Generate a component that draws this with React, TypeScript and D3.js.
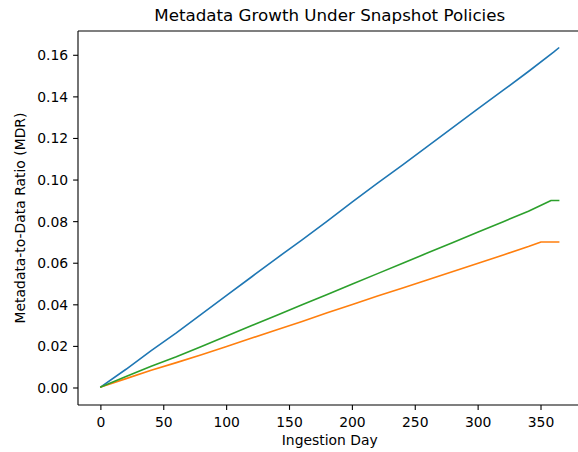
import React from "react";
import * as d3 from "d3";

// values (MDR by ingestion day)
const blueDays = [0, 20, 40, 60, 80, 100, 120, 140, 160, 180, 200, 220, 240, 260, 280, 300, 320, 340, 360, 364];
const blueVals = [0.0005, 0.009, 0.018, 0.0265, 0.0355, 0.0445, 0.0535, 0.0625, 0.0712, 0.0803, 0.0895, 0.0985, 0.1073, 0.1163, 0.1253, 0.1343, 0.1432, 0.1522, 0.1615, 0.1635];

const orangeDays = [0, 20, 40, 60, 80, 100, 120, 140, 160, 180, 200, 220, 240, 260, 280, 300, 320, 340, 350, 364];
const orangeVals = [0.0005, 0.0045, 0.0085, 0.0122, 0.016, 0.02, 0.024, 0.028, 0.032, 0.0362, 0.0402, 0.0442, 0.0481, 0.052, 0.056, 0.06, 0.064, 0.068, 0.0702, 0.0702];

const greenDays = [0, 20, 40, 60, 80, 100, 120, 140, 160, 180, 200, 220, 240, 260, 280, 300, 320, 340, 358, 364];
const greenVals = [0.0005, 0.0055, 0.0105, 0.015, 0.02, 0.025, 0.03, 0.035, 0.04, 0.045, 0.05, 0.055, 0.06, 0.065, 0.07, 0.075, 0.08, 0.085, 0.0902, 0.0902];

const xTicks = [0, 50, 100, 150, 200, 250, 300, 350];
const yTicks = [0, 0.02, 0.04, 0.06, 0.08, 0.1, 0.12, 0.14, 0.16];

const W = 578;
const H = 452;
const left = 78;
const right = 581.5;
const top = 31;
const bottom = 405;
const font = "'DejaVu Sans', sans-serif";

export default function App() {
  const x = d3.scaleLinear().domain([-18.2, 382.2]).range([left, right]);
  const y = d3.scaleLinear().domain([-0.00818, 0.17168]).range([bottom, top]);

  const line = d3
    .line<[number, number]>()
    .x((d) => x(d[0]))
    .y((d) => y(d[1]));

  const series = [
    { days: blueDays, vals: blueVals, color: "#1f77b4" },
    { days: orangeDays, vals: orangeVals, color: "#ff7f0e" },
    { days: greenDays, vals: greenVals, color: "#2ca02c" },
  ];

  const cx = (left + right) / 2;
  const cy = (top + bottom) / 2;

  return (
    <svg
      width={W}
      height={H}
      style={{ position: "absolute", left: 0, top: 0, background: "#fff" }}
      fontFamily={font}
    >
      <rect width={W} height={H} fill="#fff" />
      <g>
        {series.map((s, i) => (
          <path
            key={i}
            d={line(s.days.map((d, j) => [d, s.vals[j]] as [number, number])) || ""}
            fill="none"
            stroke={s.color}
            strokeWidth={1.6}
            strokeLinejoin="round"
            strokeLinecap="square"
          />
        ))}
      </g>

      {/* spines */}
      <line x1={left} x2={left} y1={top} y2={bottom} stroke="#000" strokeWidth={1.1} />
      <line x1={left} x2={W} y1={bottom} y2={bottom} stroke="#000" strokeWidth={1.1} />
      <line x1={left} x2={W} y1={top} y2={top} stroke="#000" strokeWidth={1.1} />

      {/* x axis */}
      {xTicks.map((t) => (
        <g key={t} transform={`translate(${x(t)},${bottom})`}>
          <line y2={4.9} stroke="#000" strokeWidth={1.1} />
          <text y={22} textAnchor="middle" fontSize={13.9} fill="#000">
            {t}
          </text>
        </g>
      ))}
      <text x={cx} y={445} textAnchor="middle" fontSize={13.9} fill="#000">
        Ingestion Day
      </text>

      {/* y axis */}
      {yTicks.map((t) => (
        <g key={t} transform={`translate(${left},${y(t)})`}>
          <line x2={-4.9} stroke="#000" strokeWidth={1.1} />
          <text x={-9.8} dy="0.35em" textAnchor="end" fontSize={13.9} fill="#000">
            {t.toFixed(2)}
          </text>
        </g>
      ))}
      <text
        transform={`translate(25,${cy}) rotate(-90)`}
        textAnchor="middle"
        fontSize={13.9}
        fill="#000"
      >
        Metadata-to-Data Ratio (MDR)
      </text>

      <text x={cx} y={21} textAnchor="middle" fontSize={16.7} fill="#000">
        Metadata Growth Under Snapshot Policies
      </text>
    </svg>
  );
}
